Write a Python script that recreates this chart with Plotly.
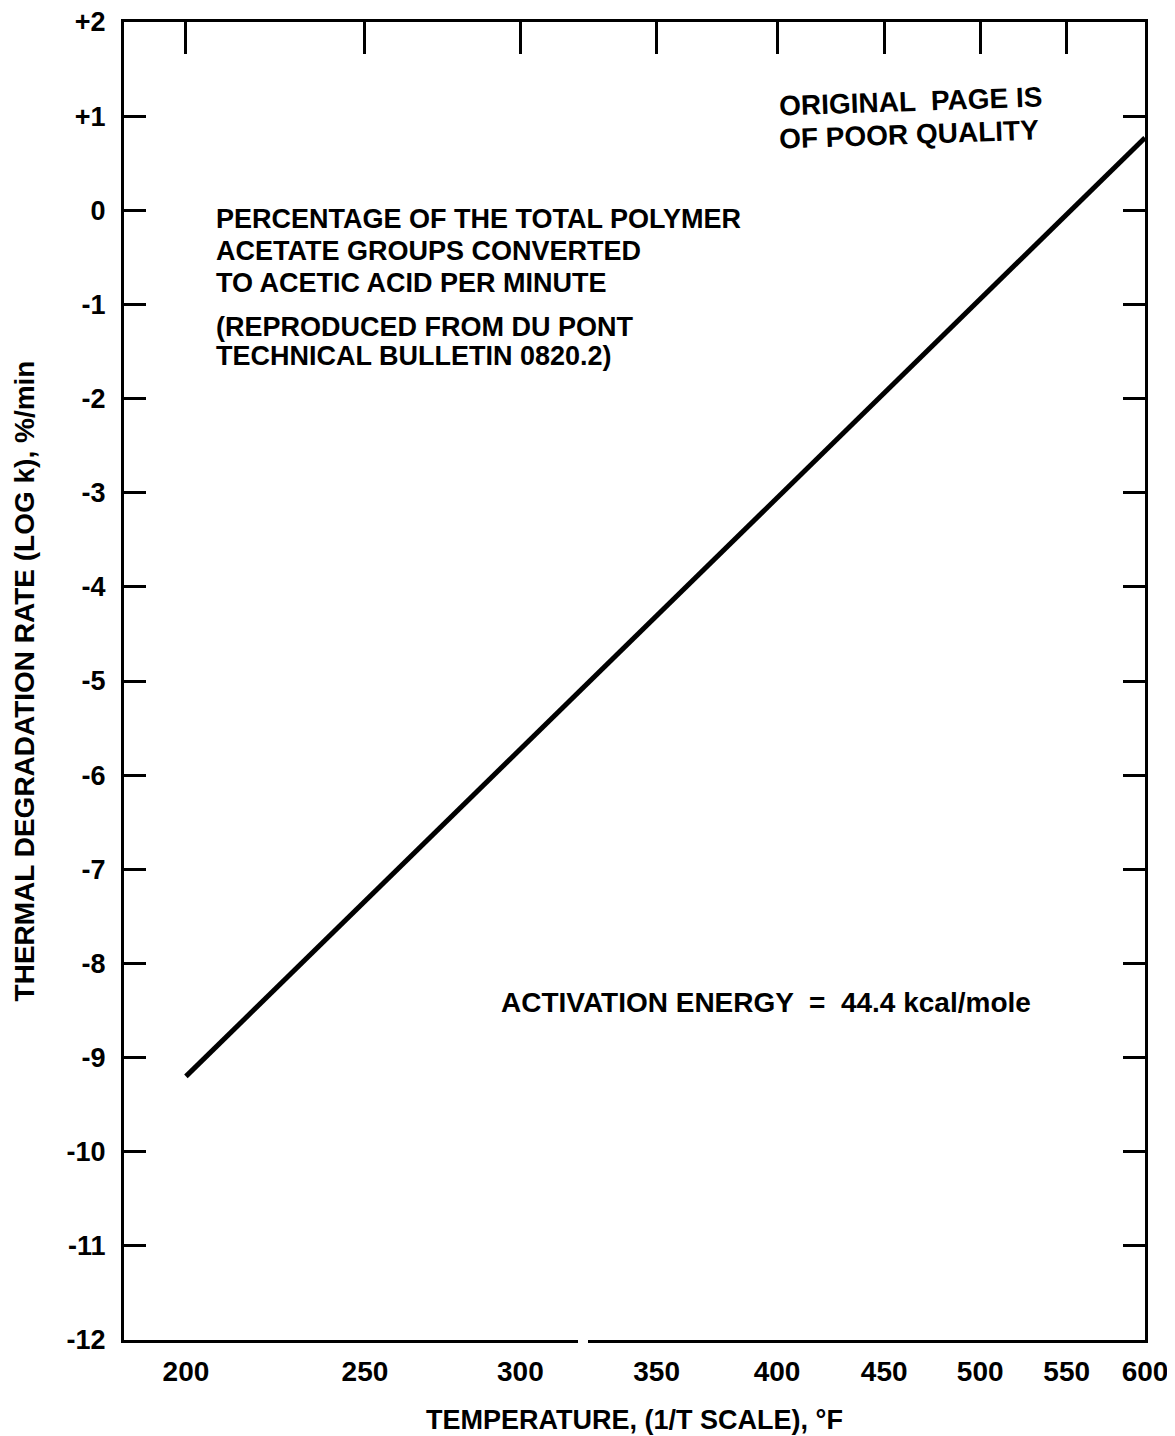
import plotly.graph_objects as go

# data
temps_f = [200, 600]
log_k = [-9.2, 0.77]

tick_temps = [200, 250, 300, 350, 400, 450, 500, 550, 600]
tick_labels = ["200", "250", "300", "350", "400", "450", "500", "550", "600"]
y_ticks = [2, 1, 0, -1, -2, -3, -4, -5, -6, -7, -8, -9, -10, -11, -12]
y_labels = ["+2", "+1", "0", "-1", "-2", "-3", "-4", "-5", "-6", "-7", "-8", "-9", "-10", "-11", "-12"]

note_lines = [
    "PERCENTAGE OF THE TOTAL POLYMER",
    "ACETATE GROUPS CONVERTED",
    "TO ACETIC ACID PER MINUTE",
]
source_lines = [
    "(REPRODUCED FROM DU PONT",
    "TECHNICAL BULLETIN 0820.2)",
]
stamp_lines = ["ORIGINAL  PAGE IS", "OF POOR QUALITY"]
energy_text = "ACTIVATION ENERGY  =  44.4 kcal/mole"


def inv_t(t_f):
    # 1/T scale, absolute temperature in Rankine
    return 1.0 / (t_f + 459.67)


x_range = [inv_t(184.3), inv_t(600)]
FONT = "Liberation Sans, Arial, sans-serif"

# page has an 8px body margin, so the figure is a bit smaller than the window
PLOT_L, PLOT_T, PLOT_W, PLOT_H = 124, 22, 1021, 1318


def px(x):
    return (x - PLOT_L) / PLOT_W


def py(y):
    return (PLOT_T + PLOT_H - y) / PLOT_H


fig = go.Figure()

fig.add_trace(go.Scatter(
    x=[inv_t(t) for t in temps_f],
    y=log_k,
    mode="lines",
    line=dict(color="black", width=5),
    showlegend=False,
    hoverinfo="skip",
))

# invisible trace so the top axis is drawn
fig.add_trace(go.Scatter(
    x=[inv_t(t) for t in temps_f],
    y=log_k,
    xaxis="x2",
    mode="lines",
    line=dict(color="rgba(0,0,0,0)", width=0),
    showlegend=False,
    hoverinfo="skip",
))

annotations = []
for i, line in enumerate(note_lines):
    annotations.append(dict(
        text=line, xref="paper", yref="paper",
        x=px(214), y=py(219 + 32 * i),
        xanchor="left", yanchor="middle", showarrow=False,
        font=dict(family=FONT, size=27, color="black", weight="bold"),
    ))
for i, line in enumerate(source_lines):
    annotations.append(dict(
        text=line, xref="paper", yref="paper",
        x=px(214), y=py(327 + 29 * i),
        xanchor="left", yanchor="middle", showarrow=False,
        font=dict(family=FONT, size=27, color="black", weight="bold"),
    ))
for i, line in enumerate(stamp_lines):
    annotations.append(dict(
        text=line, xref="paper", yref="paper",
        x=px(776), y=py(101 + 33 * i),
        xanchor="left", yanchor="middle", showarrow=False, textangle=-2,
        font=dict(family=FONT, size=28, color="black", weight="bold"),
    ))
annotations.append(dict(
    text=energy_text, xref="paper", yref="paper",
    x=px(499), y=py(1003),
    xanchor="left", yanchor="middle", showarrow=False,
    font=dict(family=FONT, size=28, color="black", weight="bold"),
))

fig.update_layout(
    width=1167,
    height=1428,
    margin=dict(l=116, r=30, t=14, b=96),
    paper_bgcolor="white",
    plot_bgcolor="white",
    font=dict(family=FONT, size=27, color="black", weight="bold"),
    xaxis=dict(
        range=x_range,
        tickmode="array",
        tickvals=[inv_t(t) for t in tick_temps],
        ticktext=tick_labels,
        ticks="",
        showgrid=False,
        zeroline=False,
        showline=True,
        linecolor="black",
        linewidth=3,
        ticklabelstandoff=4,
        ticklabeloverflow="allow",
        tickfont=dict(size=28, weight="bold"),
        title=dict(text="TEMPERATURE, (1/T SCALE), °F", standoff=25,
                   font=dict(size=27, weight="bold")),
        automargin=False,
    ),
    xaxis2=dict(
        range=x_range,
        overlaying="x",
        side="top",
        tickmode="array",
        tickvals=[inv_t(t) for t in tick_temps],
        ticks="inside",
        ticklen=32,
        tickwidth=3,
        tickcolor="black",
        showticklabels=False,
        showgrid=False,
        zeroline=False,
        showline=True,
        linecolor="black",
        linewidth=3,
    ),
    yaxis=dict(
        range=[-12, 2],
        tickmode="array",
        tickvals=y_ticks,
        ticktext=y_labels,
        ticks="inside",
        ticklen=22,
        tickwidth=3,
        tickcolor="black",
        mirror="ticks",
        showgrid=False,
        zeroline=False,
        showline=True,
        linecolor="black",
        linewidth=3,
        ticklabelstandoff=10,
        ticklabeloverflow="allow",
        tickfont=dict(size=27, weight="bold"),
        title=dict(text="THERMAL DEGRADATION RATE (LOG k), %/min", standoff=24,
                   font=dict(size=28, weight="bold")),
        automargin=False,
    ),
    shapes=[dict(
        type="rect", xref="paper", yref="paper", layer="above",
        x0=px(578), x1=px(588), y0=-0.004, y1=0.004,
        fillcolor="white", line=dict(width=0),
    )],
    annotations=annotations,
)

fig.write_html("out.html")
